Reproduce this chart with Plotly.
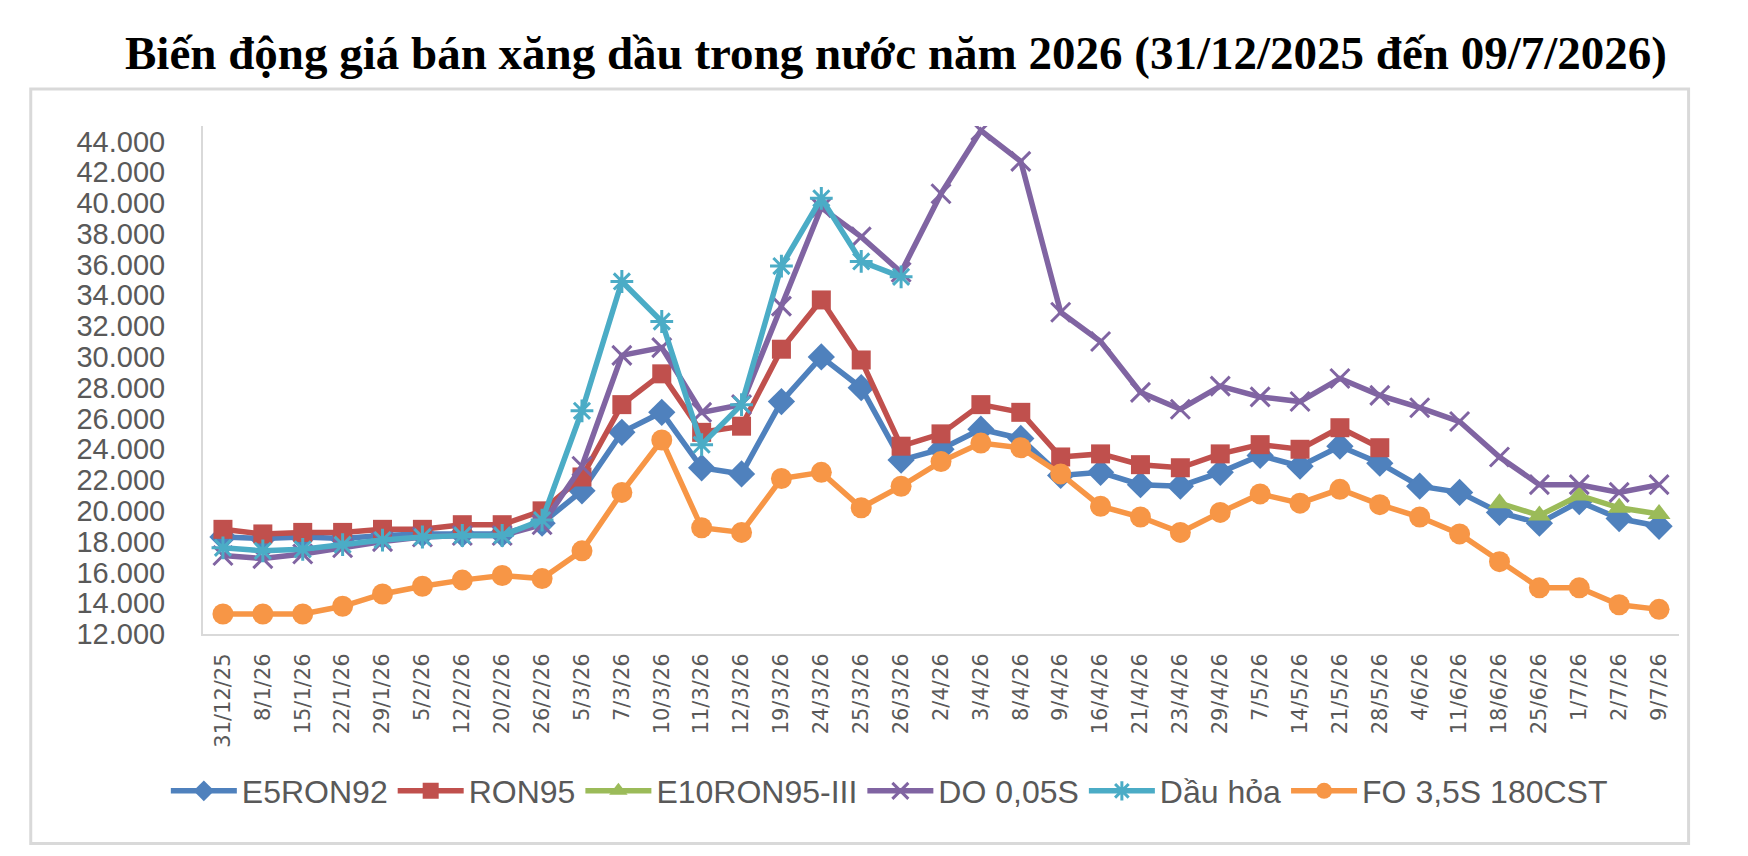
import plotly.graph_objects as go

dates = ["31/12/25", "8/1/26", "15/1/26", "22/1/26", "29/1/26", "5/2/26", "12/2/26",
         "20/2/26", "26/2/26", "5/3/26", "7/3/26", "10/3/26", "11/3/26", "12/3/26",
         "19/3/26", "24/3/26", "25/3/26", "26/3/26", "2/4/26", "3/4/26", "8/4/26",
         "9/4/26", "16/4/26", "21/4/26", "23/4/26", "29/4/26", "7/5/26", "14/5/26",
         "21/5/26", "28/5/26", "4/6/26", "11/6/26", "18/6/26", "25/6/26", "1/7/26",
         "2/7/26", "9/7/26"]

e5ron92 = [18300, 18200, 18300, 18200, 18400, 18500, 18500, 18500, 19200, 21300,
           25100, 26400, 22800, 22400, 27100, 30000, 28000, 23300, 24000, 25300,
           24700, 22300, 22500, 21700, 21600, 22500, 23600, 22900, 24200, 23100,
           21600, 21200, 19900, 19200, 20600, 19500, 19000]

ron95 = [18800, 18500, 18600, 18600, 18800, 18800, 19100, 19100, 20000, 22200,
         26900, 28900, 25100, 25500, 30500, 33700, 29800, 24200, 25000, 26900,
         26400, 23500, 23700, 23000, 22800, 23700, 24300, 24000, 25400, 24100,
         None, None, None, None, None, None, None]

e10ron95 = [None] * 32 + [20500, 19700, 21000, 20200, 19800]

do005s = [17100, 16900, 17200, 17600, 18000, 18300, 18400, 18400, 19100, 22900,
          30100, 30600, 26400, 26900, 33300, 39700, 37800, 35500, 40600, 44700,
          42700, 32900, 31000, 27700, 26600, 28100, 27400, 27100, 28600, 27500,
          26700, 25800, 23500, 21700, 21700, 21200, 21700]

dau_hoa = [17600, 17400, 17500, 17800, 18100, 18300, 18400, 18400, 19400, 26500,
           34900, 32300, 24300, 26900, 35900, 40300, 36200, 35200] + [None] * 19

fo = [13300, 13300, 13300, 13800, 14600, 15100, 15500, 15800, 15600, 17400,
      21200, 24600, 18900, 18600, 22100, 22500, 20200, 21600, 23200, 24400,
      24100, 22400, 20300, 19600, 18600, 19900, 21100, 20500, 21400, 20400,
      19600, 18500, 16700, 15000, 15000, 13900, 13600]

series = [
    ("E5RON92", e5ron92, "#4F81BD", "diamond", 21),
    ("RON95", ron95, "#C0504D", "square", 19),
    ("E10RON95-III", e10ron95, "#9BBB59", "triangle-up", 20),
    ("DO 0,05S", do005s, "#8064A2", "x-thin", 19),
    ("Dầu hỏa", dau_hoa, "#4BACC6", "asterisk", 19),
    ("FO 3,5S 180CST", fo, "#F79646", "circle", 21),
]

fig = go.Figure()
for name, vals, color, symbol, size in series:
    fig.add_trace(go.Scatter(
        x=dates, y=vals, name=name, mode="lines+markers",
        line=dict(color=color, width=5.5),
        marker=dict(symbol=symbol, size=size, color=color,
                    line=dict(color=color, width=3 if symbol in ("x-thin", "asterisk") else 0)),
    ))

fig.update_layout(
    width=1748, height=856,
    paper_bgcolor="white", plot_bgcolor="white",
    separators=",.",
    margin=dict(l=195, r=77, t=118, b=230),
    title=dict(
        text="<b>Biến động giá bán xăng dầu trong nước năm 2026 (31/12/2025 đến 09/7/2026)</b>",
        font=dict(family="Liberation Serif, Times New Roman, serif", size=47, color="black"),
        x=0.508, xref="container", xanchor="center",
        y=0.948, yref="container", yanchor="middle",
    ),
    legend=dict(
        orientation="h", x=0.465, xanchor="center", y=-0.255, yanchor="top",
        font=dict(family="Liberation Sans, Arial", size=32, color="#595959"),
        itemwidth=66,
    ),
    shapes=[dict(type="rect", xref="paper", yref="paper",
                 x0=-0.1167, x1=1.0065, y0=-0.4126, y1=1.0727,
                 line=dict(color="#D9D9D9", width=3), fillcolor="rgba(0,0,0,0)", layer="below")],
)

fig.update_xaxes(
    type="category", range=[-0.5, len(dates) - 0.5],
    showline=True, linecolor="#D9D9D9", linewidth=2, showgrid=False,
    tickangle=-90, ticks="", ticklabelstandoff=9,
    tickfont=dict(family="DejaVu Sans, Liberation Sans", size=21, color="#595959"),
)
fig.update_yaxes(
    range=[12000, 45000], tickvals=list(range(12000, 45000, 2000)), tickformat=",d",
    showline=True, linecolor="#D9D9D9", linewidth=2, showgrid=False, zeroline=False,
    ticks="", ticklabelstandoff=30,
    tickfont=dict(family="Liberation Sans, Arial", size=29, color="#595959"),
)

fig.write_html("out.html")
